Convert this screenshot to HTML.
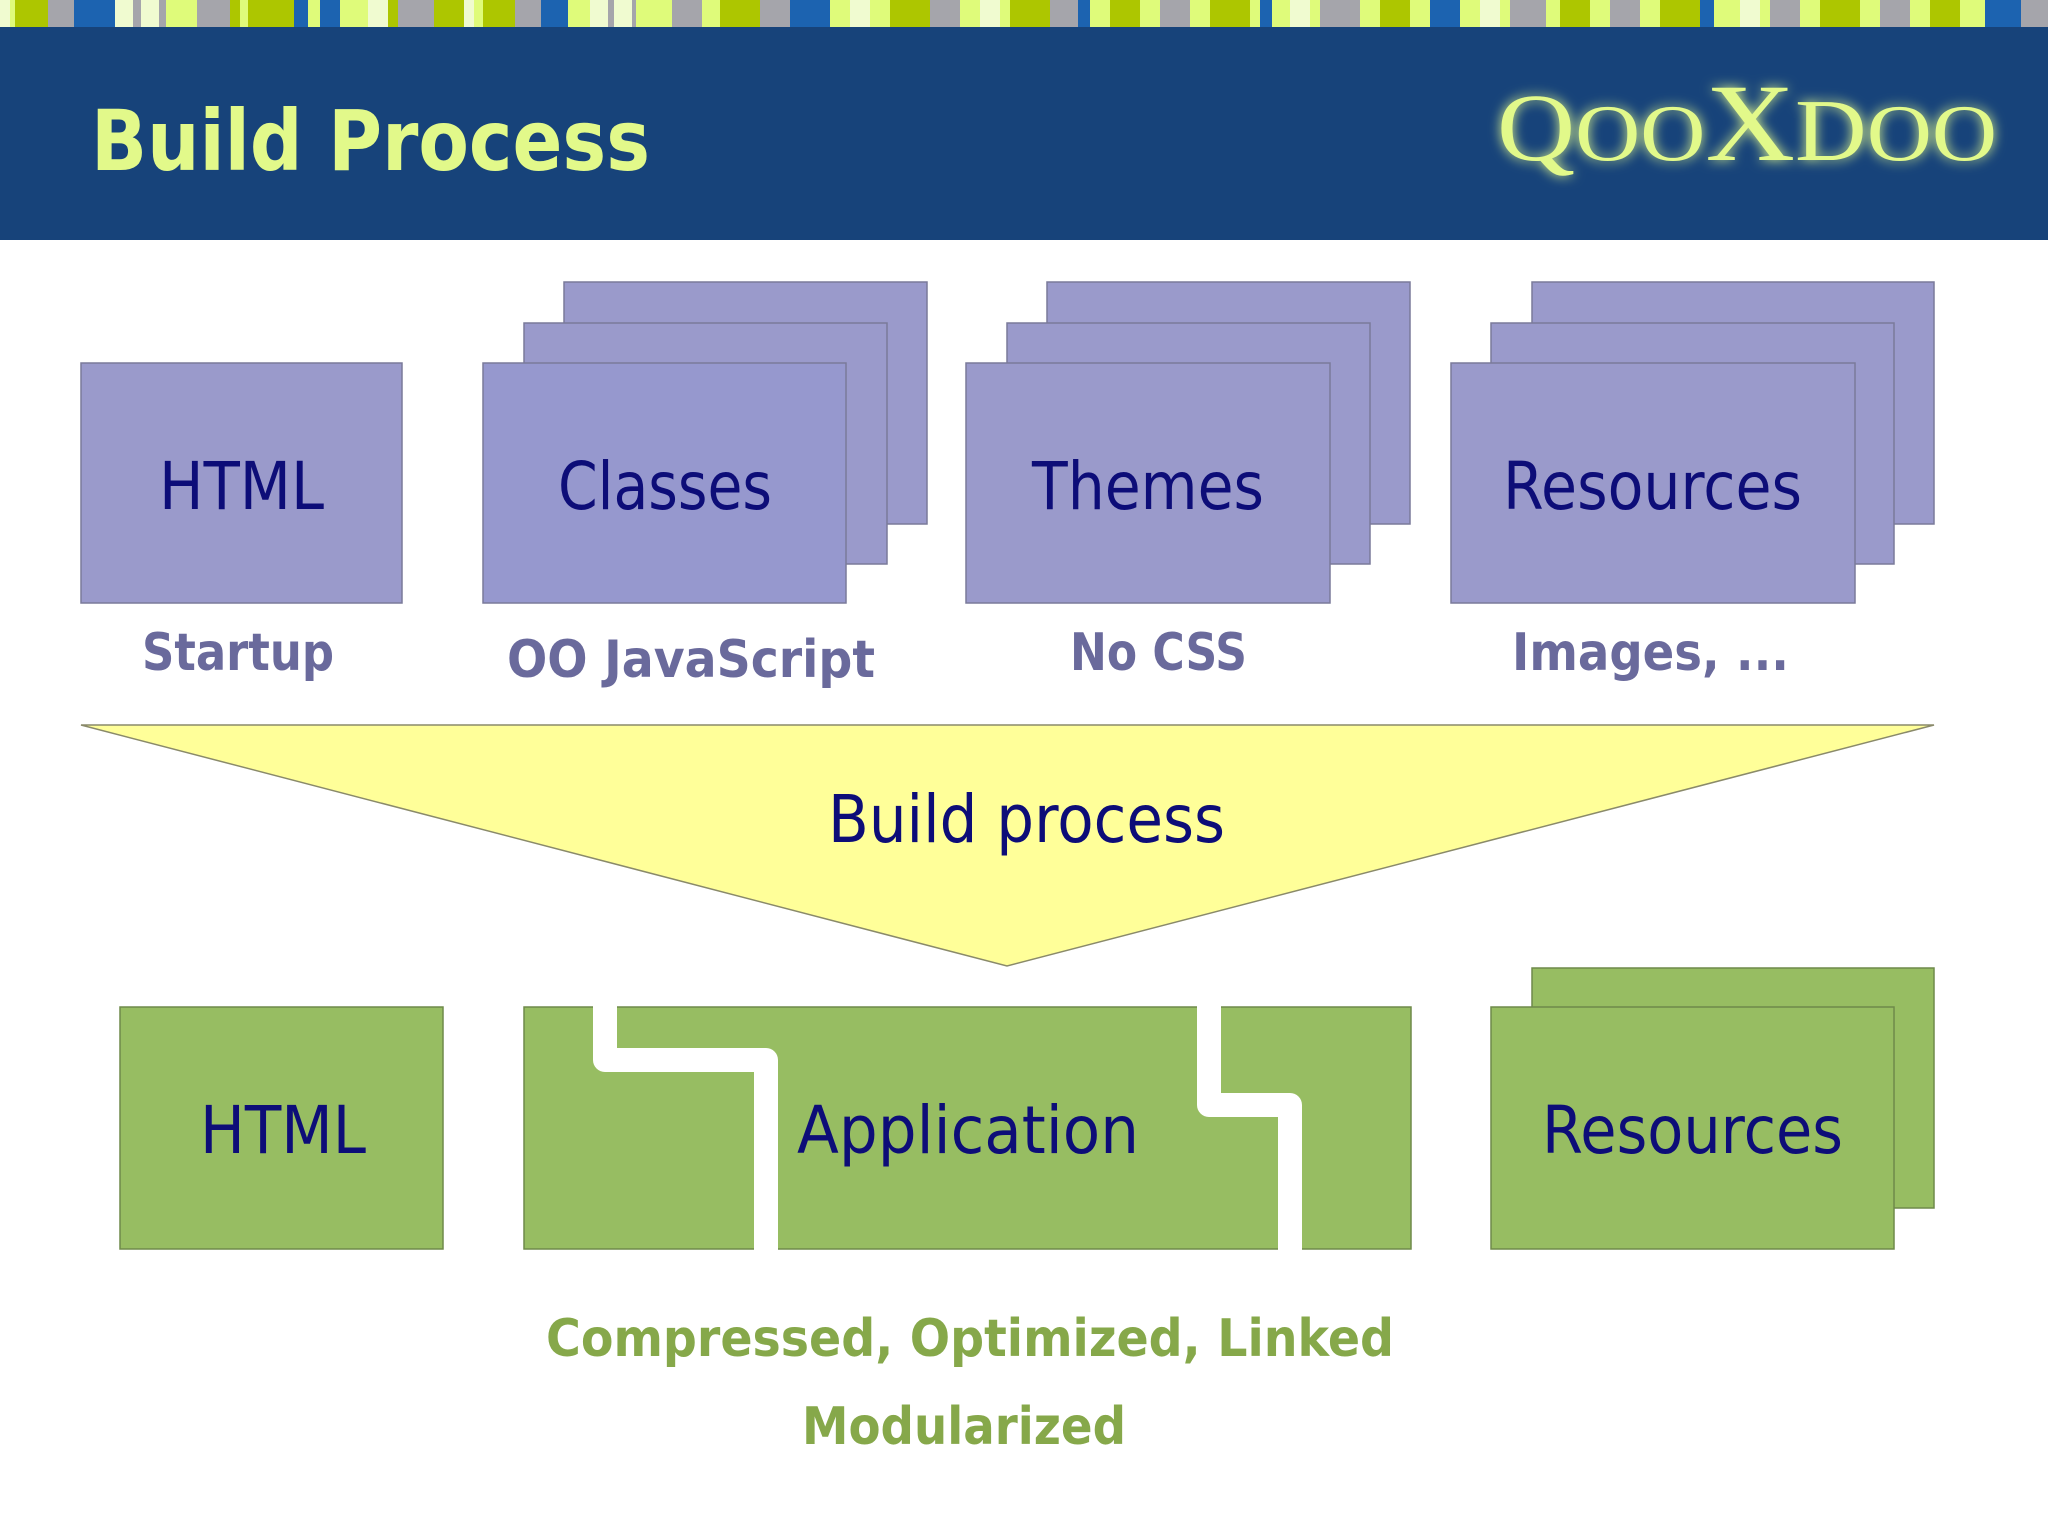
<!DOCTYPE html>
<html><head><meta charset="utf-8"><style>
html,body{margin:0;padding:0;background:#fff;}
svg{display:block;}
</style></head><body>
<svg width="2048" height="1536" viewBox="0 0 2048 1536" xmlns="http://www.w3.org/2000/svg">
<defs>
<filter id="glow" x="-20%" y="-40%" width="140%" height="180%"><feGaussianBlur stdDeviation="6" result="b"/><feMerge><feMergeNode in="b"/><feMergeNode in="SourceGraphic"/></feMerge></filter>
</defs>
<rect x="0" y="0" width="2048" height="1536" fill="#fff"/>
<g>
<rect x="0" y="0" width="2048" height="27" fill="#dffb7a"/>
<rect x="0" y="0" width="10" height="27" fill="#f0fbd0"/>
<rect x="15" y="0" width="33" height="27" fill="#adc600"/>
<rect x="48" y="0" width="26" height="27" fill="#a5a5ab"/>
<rect x="74" y="0" width="41" height="27" fill="#1c63b0"/>
<rect x="115" y="0" width="18" height="27" fill="#f0fbd0"/>
<rect x="133" y="0" width="8" height="27" fill="#a5a5ab"/>
<rect x="141" y="0" width="18" height="27" fill="#f0fbd0"/>
<rect x="159" y="0" width="7" height="27" fill="#a5a5ab"/>
<rect x="197" y="0" width="33" height="27" fill="#a5a5ab"/>
<rect x="230" y="0" width="10" height="27" fill="#adc600"/>
<rect x="248" y="0" width="46" height="27" fill="#adc600"/>
<rect x="294" y="0" width="14" height="27" fill="#1c63b0"/>
<rect x="320" y="0" width="20" height="27" fill="#1c63b0"/>
<rect x="368" y="0" width="20" height="27" fill="#f0fbd0"/>
<rect x="388" y="0" width="10" height="27" fill="#adc600"/>
<rect x="398" y="0" width="36" height="27" fill="#a5a5ab"/>
<rect x="434" y="0" width="30" height="27" fill="#adc600"/>
<rect x="464" y="0" width="10" height="27" fill="#f0fbd0"/>
<rect x="483" y="0" width="32" height="27" fill="#adc600"/>
<rect x="515" y="0" width="26" height="27" fill="#a5a5ab"/>
<rect x="541" y="0" width="27" height="27" fill="#1c63b0"/>
<rect x="590" y="0" width="18" height="27" fill="#f0fbd0"/>
<rect x="608" y="0" width="6" height="27" fill="#a5a5ab"/>
<rect x="614" y="0" width="18" height="27" fill="#f0fbd0"/>
<rect x="632" y="0" width="4" height="27" fill="#a5a5ab"/>
<rect x="672" y="0" width="30" height="27" fill="#a5a5ab"/>
<rect x="720" y="0" width="40" height="27" fill="#adc600"/>
<rect x="760" y="0" width="30" height="27" fill="#a5a5ab"/>
<rect x="790" y="0" width="40" height="27" fill="#1c63b0"/>
<rect x="850" y="0" width="20" height="27" fill="#f0fbd0"/>
<rect x="890" y="0" width="40" height="27" fill="#adc600"/>
<rect x="930" y="0" width="30" height="27" fill="#a5a5ab"/>
<rect x="980" y="0" width="20" height="27" fill="#f0fbd0"/>
<rect x="1010" y="0" width="40" height="27" fill="#adc600"/>
<rect x="1050" y="0" width="28" height="27" fill="#a5a5ab"/>
<rect x="1078" y="0" width="12" height="27" fill="#1c63b0"/>
<rect x="1110" y="0" width="30" height="27" fill="#adc600"/>
<rect x="1160" y="0" width="30" height="27" fill="#a5a5ab"/>
<rect x="1210" y="0" width="40" height="27" fill="#adc600"/>
<rect x="1260" y="0" width="12" height="27" fill="#1c63b0"/>
<rect x="1290" y="0" width="20" height="27" fill="#f0fbd0"/>
<rect x="1320" y="0" width="40" height="27" fill="#a5a5ab"/>
<rect x="1380" y="0" width="30" height="27" fill="#adc600"/>
<rect x="1430" y="0" width="30" height="27" fill="#1c63b0"/>
<rect x="1480" y="0" width="20" height="27" fill="#f0fbd0"/>
<rect x="1510" y="0" width="36" height="27" fill="#a5a5ab"/>
<rect x="1560" y="0" width="30" height="27" fill="#adc600"/>
<rect x="1610" y="0" width="30" height="27" fill="#a5a5ab"/>
<rect x="1660" y="0" width="40" height="27" fill="#adc600"/>
<rect x="1700" y="0" width="14" height="27" fill="#1c63b0"/>
<rect x="1740" y="0" width="20" height="27" fill="#f0fbd0"/>
<rect x="1770" y="0" width="30" height="27" fill="#a5a5ab"/>
<rect x="1820" y="0" width="40" height="27" fill="#adc600"/>
<rect x="1880" y="0" width="30" height="27" fill="#a5a5ab"/>
<rect x="1930" y="0" width="30" height="27" fill="#adc600"/>
<rect x="1985" y="0" width="36" height="27" fill="#1c63b0"/>
<rect x="2021" y="0" width="27" height="27" fill="#a5a5ab"/>
</g>
<rect x="0" y="27" width="2048" height="213" fill="#17437a"/>
<text x="91" y="170" font-family="DejaVu Sans, sans-serif" font-weight="bold" font-size="84" fill="#e2f98a" textLength="559" lengthAdjust="spacingAndGlyphs">Build Process</text>
<g filter="url(#glow)" fill="#e2f98a" font-family="Liberation Serif, serif">
<text x="1497" y="160" font-size="96" textLength="500" lengthAdjust="spacingAndGlyphs">Q<tspan font-size="80">OO</tspan><tspan font-size="110">X</tspan><tspan font-size="88">D</tspan><tspan font-size="80">OO</tspan></text>
</g>

<g stroke="#7a7a9a" stroke-width="1.5" fill="#9a9acb">
<rect x="81" y="363" width="321" height="240"/>
<rect x="564" y="282" width="363" height="242"/>
<rect x="524" y="323" width="363" height="241"/>
<rect x="483" y="363" width="363" height="240" fill="#9698ce"/>
<rect x="1047" y="282" width="363" height="242"/>
<rect x="1007" y="323" width="363" height="241"/>
<rect x="966" y="363" width="364" height="240"/>
<rect x="1532" y="282" width="402" height="242"/>
<rect x="1491" y="323" width="403" height="241"/>
<rect x="1451" y="363" width="404" height="240"/>
</g>
<g font-family="DejaVu Sans, sans-serif" font-size="66" fill="#0d0d78">
<text x="159" y="509" textLength="165" lengthAdjust="spacingAndGlyphs">HTML</text>
<text x="558" y="509" textLength="214" lengthAdjust="spacingAndGlyphs">Classes</text>
<text x="1032" y="509" textLength="232" lengthAdjust="spacingAndGlyphs">Themes</text>
<text x="1503" y="509" textLength="299" lengthAdjust="spacingAndGlyphs">Resources</text>
</g>
<g font-family="DejaVu Sans, sans-serif" font-size="52" font-weight="bold" fill="#6a6a9c">
<text x="142" y="670" textLength="192" lengthAdjust="spacingAndGlyphs">Startup</text>
<text x="507" y="677" textLength="368" lengthAdjust="spacingAndGlyphs">OO JavaScript</text>
<text x="1070" y="670" textLength="177" lengthAdjust="spacingAndGlyphs">No CSS</text>
<text x="1512" y="670" textLength="277" lengthAdjust="spacingAndGlyphs">Images, ...</text>
</g>

<polygon points="81,725 1934,725 1007,966" fill="#ffff99" stroke="#8a8a6a" stroke-width="1.5"/>
<text x="828" y="842" font-family="DejaVu Sans, sans-serif" font-size="66" fill="#0d0d78" textLength="397" lengthAdjust="spacingAndGlyphs">Build process</text>

<g stroke="#6f8a4a" stroke-width="1.5" fill="#97bd62">
<rect x="120" y="1007" width="323" height="242"/>
<rect x="524" y="1007" width="887" height="242"/>
<rect x="1532" y="968" width="402" height="240"/>
<rect x="1491" y="1007" width="403" height="242"/>
</g>
<g fill="none" stroke="#fff" stroke-width="24" stroke-linejoin="round">
<polyline points="605,995 605,1060 766,1060 766,1262"/>
<polyline points="1209,995 1209,1105 1290,1105 1290,1262"/>
</g>
<g font-family="DejaVu Sans, sans-serif" font-size="66" fill="#0d0d78">
<text x="200" y="1153" textLength="166" lengthAdjust="spacingAndGlyphs">HTML</text>
<text x="797" y="1153" textLength="342" lengthAdjust="spacingAndGlyphs">Application</text>
<text x="1542" y="1153" textLength="301" lengthAdjust="spacingAndGlyphs">Resources</text>
</g>
<g font-family="DejaVu Sans, sans-serif" font-size="52" font-weight="bold" fill="#86a84a">
<text x="546" y="1356" textLength="848" lengthAdjust="spacingAndGlyphs">Compressed, Optimized, Linked</text>
<text x="802" y="1444" textLength="324" lengthAdjust="spacingAndGlyphs">Modularized</text>
</g>
</svg>
</body></html>
